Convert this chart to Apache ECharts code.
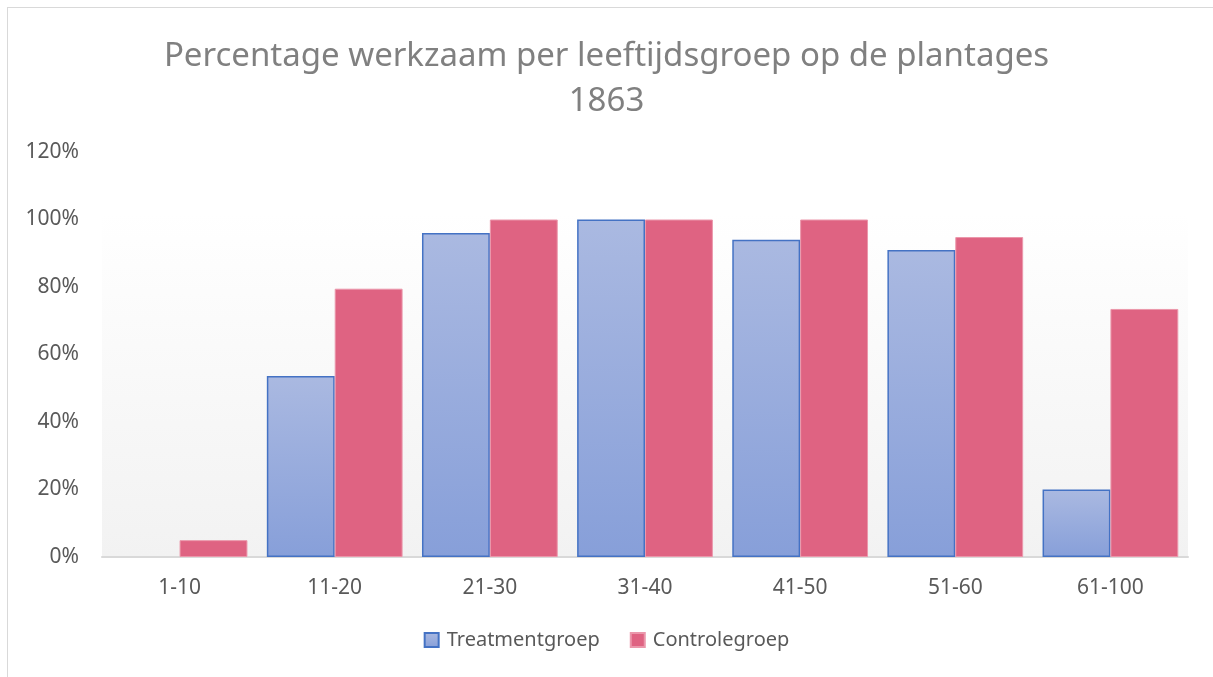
<!DOCTYPE html>
<html>
<head>
<meta charset="utf-8">
<script src="https://cdn.jsdelivr.net/npm/echarts@6/dist/echarts.min.js"></script>
<style>
  html, body { margin: 0; padding: 0; background: #fff; }
  #frame { position: absolute; left: 7px; top: 7px; width: 1210px; height: 680px; border: 1px solid #d9d9d9; box-sizing: border-box; }
  #chart { position: absolute; left: 0; top: 0; width: 1213px; height: 677px; }
</style>
</head>
<body>
<div id="frame"></div>
<div id="chart"></div>
<script>
const categories = ['1-10', '11-20', '21-30', '31-40', '41-50', '51-60', '61-100']
const treatmentValues = [0, 0.536, 0.96, 1.0, 0.94, 0.91, 0.20]
const controlValues = [0.05, 0.795, 1.0, 1.0, 1.0, 0.948, 0.735]
const seriesNames = ['Treatmentgroep', 'Controlegroep']

const font = '"Noto Sans", "Open Sans", sans-serif'

// geen rand tekenen bij een waarde van 0
const withEmptyZero = arr => arr.map(v => v === 0 ? { value: v, itemStyle: { borderWidth: 0, opacity: 0 } } : v)

const chart = echarts.init(document.getElementById('chart'))
const option = {
  animation: false,
  title: {
    text: 'Percentage werkzaam per leeftijdsgroep op de plantages\n1863',
    left: 'center',
    top: 29,
    textStyle: {
      fontFamily: font,
      fontSize: 33,
      fontWeight: 'normal',
      color: '#808080',
      lineHeight: 45
    }
  },
  legend: {
    bottom: 22,
    left: 'center',
    itemWidth: 14,
    itemHeight: 14,
    itemGap: 30,
    icon: 'rect',
    textStyle: { fontFamily: font, fontSize: 20, color: '#595959', padding: [0, 0, 0, 3] },
    data: seriesNames
  },
  grid: {
    left: 102,
    right: 25,
    top: 152,
    bottom: 120,
    show: true,
    borderWidth: 0,
    backgroundColor: new echarts.graphic.LinearGradient(0, 0, 0, 1, [
      { offset: 0, color: '#ffffff' },
      { offset: 0.15, color: '#ffffff' },
      { offset: 1, color: '#f2f2f2' }
    ])
  },
  xAxis: {
    type: 'category',
    data: categories,
    axisLine: { lineStyle: { color: '#d9d9d9', width: 2 } },
    axisTick: { show: false },
    axisLabel: { fontFamily: font, fontSize: 21, color: '#595959', margin: 21 }
  },
  yAxis: {
    type: 'value',
    min: 0,
    max: 1.2,
    interval: 0.2,
    splitLine: { show: false },
    axisLine: { show: false },
    axisTick: { show: false },
    axisLabel: {
      fontFamily: font,
      fontSize: 21,
      color: '#595959',
      margin: 23,
      formatter: v => Math.round(v * 100) + '%'
    }
  },
  series: [
    {
      name: seriesNames[0],
      type: 'bar',
      data: withEmptyZero(treatmentValues),
      barGap: '0%',
      barCategoryGap: '12.5%',
      itemStyle: {
        color: new echarts.graphic.LinearGradient(0, 0, 0, 1, [
          { offset: 0, color: '#aab9e1' },
          { offset: 1, color: '#879fd9' }
        ]),
        borderColor: '#4472c4',
        borderWidth: 1.5
      }
    },
    {
      name: seriesNames[1],
      type: 'bar',
      data: withEmptyZero(controlValues),
      barGap: '0%',
      barCategoryGap: '12.5%',
      itemStyle: {
        color: '#df6382',
        borderColor: '#eb97ab',
        borderWidth: 1
      }
    }
  ]
}
chart.setOption(option)
</script>
</body>
</html>
